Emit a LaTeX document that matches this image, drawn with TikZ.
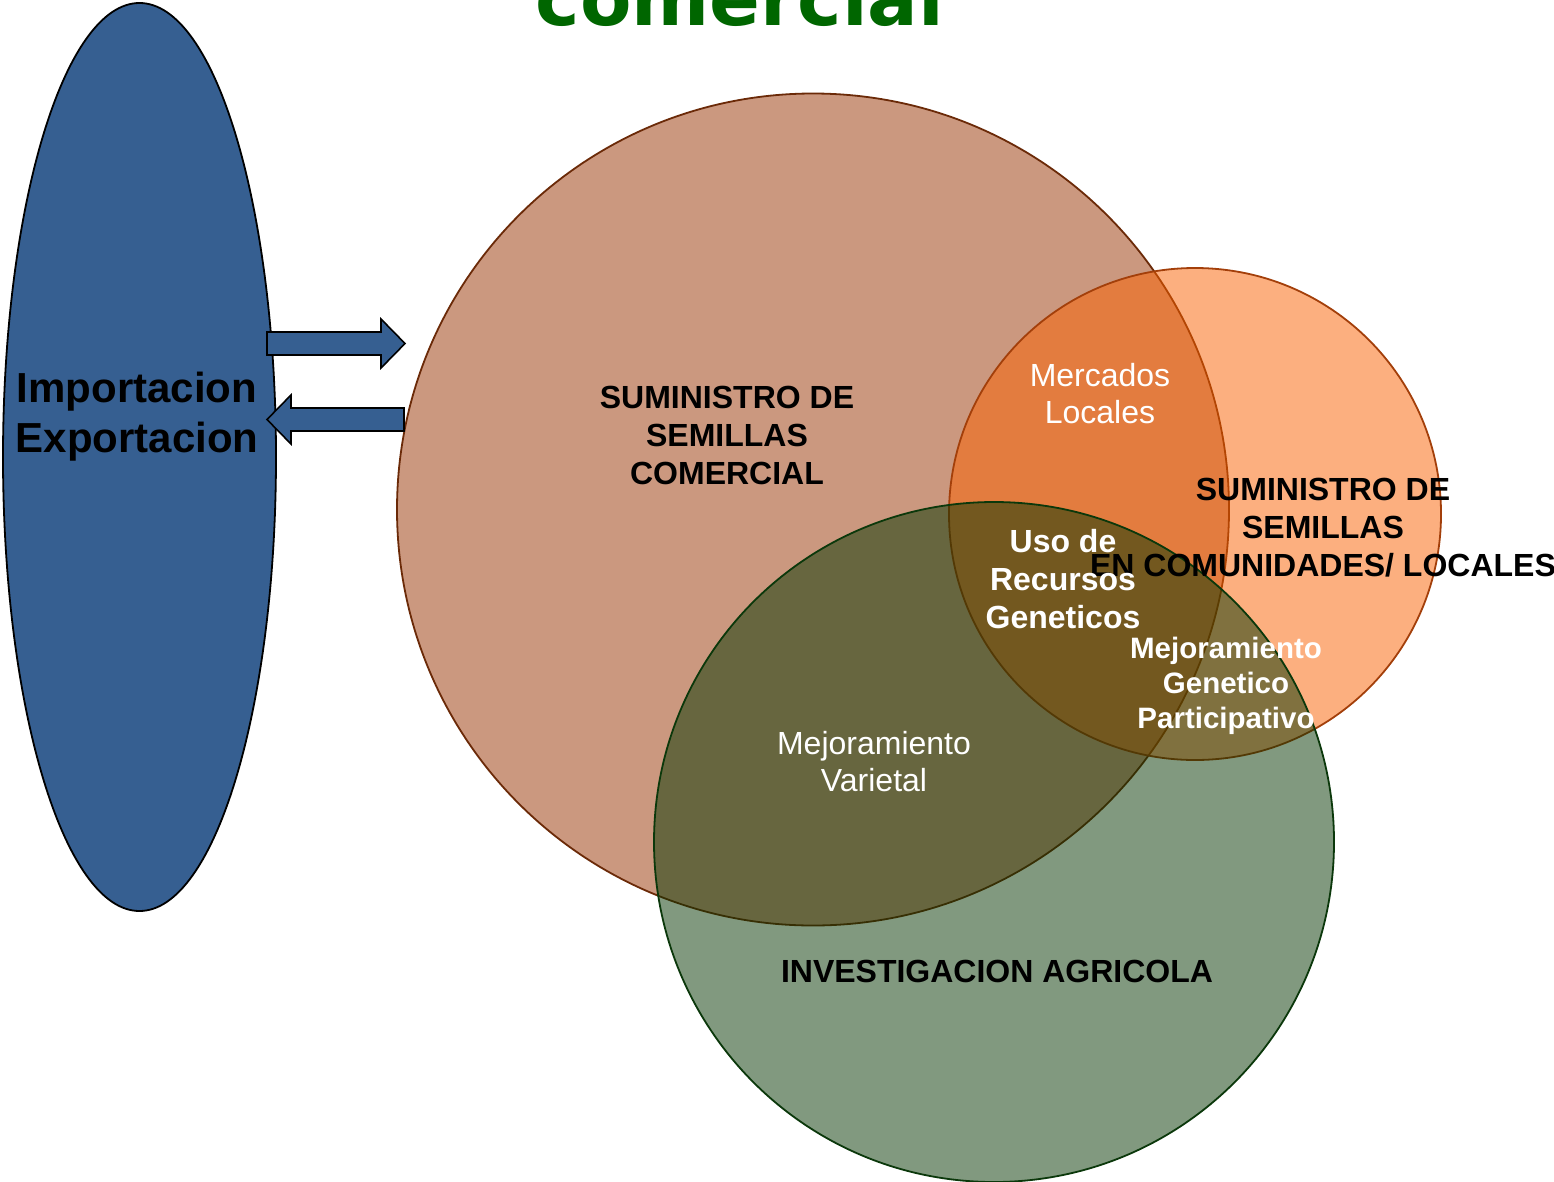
\documentclass[tikz,border=0pt]{standalone}
\usepackage{fontspec}
\setmainfont{Liberation Sans}
\newfontfamily\titlefont{DejaVu Sans}
\usetikzlibrary{shapes.geometric}
\definecolor{blueell}{HTML}{365F91}
\definecolor{brownfill}{HTML}{993300}
\definecolor{brownline}{HTML}{6B2A08}
\definecolor{orangefill}{HTML}{FB6100}
\definecolor{orangeline}{HTML}{A33F0A}
\definecolor{greenfill}{HTML}{053501}
\definecolor{greenline}{HTML}{0B380B}
\definecolor{titlegreen}{HTML}{006600}
\tikzset{
  venn/.style={circle, inner sep=0pt, outer sep=0pt, line width=1.8pt, fill opacity=0.5},
  boldlbl/.style={font=\fontsize{32}{38}\selectfont\bfseries, align=center, text=black},
  whitebold/.style={font=\fontsize{32}{38}\selectfont\bfseries, align=center, text=white},
  whitereg/.style={font=\fontsize{32}{37}\selectfont, align=center, text=white},
  blockarrow/.style={draw=black, fill=blueell, line width=1.6pt, line join=miter},
}
\begin{document}
\begin{tikzpicture}[x=1pt,y=-1pt]
\useasboundingbox (0,0) rectangle (1554,1181);
\fill[white] (0,0) rectangle (1554,1181);
% title
\node (title) [anchor=base, inner sep=0pt, text=titlegreen, font=\titlefont\fontsize{75}{80}\selectfont\bfseries] at (740,25) {comercial};
% ellipse
\node (ie) [ellipse, draw=black, fill=blueell, line width=1.8pt, minimum width=273pt, minimum height=908pt, inner sep=0pt] at (139.5,457) {};
\node (ietext) [font=\fontsize{42}{50}\selectfont\bfseries, align=center, text=black] at (137,417) {Importacion\\Exportacion};
% circles
\node (com) [venn, draw=brownline, fill=brownfill, minimum size=832pt] at (813,509.5) {};
\node (loc) [venn, draw=orangeline, fill=orangefill, minimum size=492pt] at (1195,514) {};
\node (inv) [venn, draw=greenline, fill=greenfill, minimum size=680pt] at (994,842) {};
% arrows
\draw[blockarrow] (267,332) -- (381,332) -- (381,319) -- (405,343.5) -- (381,368) -- (381,355) -- (267,355) -- cycle;
\draw[blockarrow] (404,408) -- (291,408) -- (291,395) -- (267,419.5) -- (291,444) -- (291,431) -- (404,431) -- cycle;
% labels
\node (tcom) [boldlbl] at (727,435) {SUMINISTRO DE\\SEMILLAS\\COMERCIAL};
\node (tmerc) [whitereg] at (1100,394) {Mercados\\Locales};
\node (tloc) [boldlbl] at (1323,527.5) {SUMINISTRO DE\\SEMILLAS\\EN COMUNIDADES/ LOCALES};
\node (tuso) [whitebold] at (1063,579) {Uso de\\Recursos\\Geneticos};
\node (tmgp) [whitebold, font=\fontsize{29.5}{35}\selectfont\bfseries] at (1226,686) {Mejoramiento\\Genetico\\Participativo};
\node (tmv) [whitereg] at (874,762) {Mejoramiento\\Varietal};
\node (tinv) [boldlbl] at (997,971) {INVESTIGACION AGRICOLA};
\end{tikzpicture}
\end{document}
